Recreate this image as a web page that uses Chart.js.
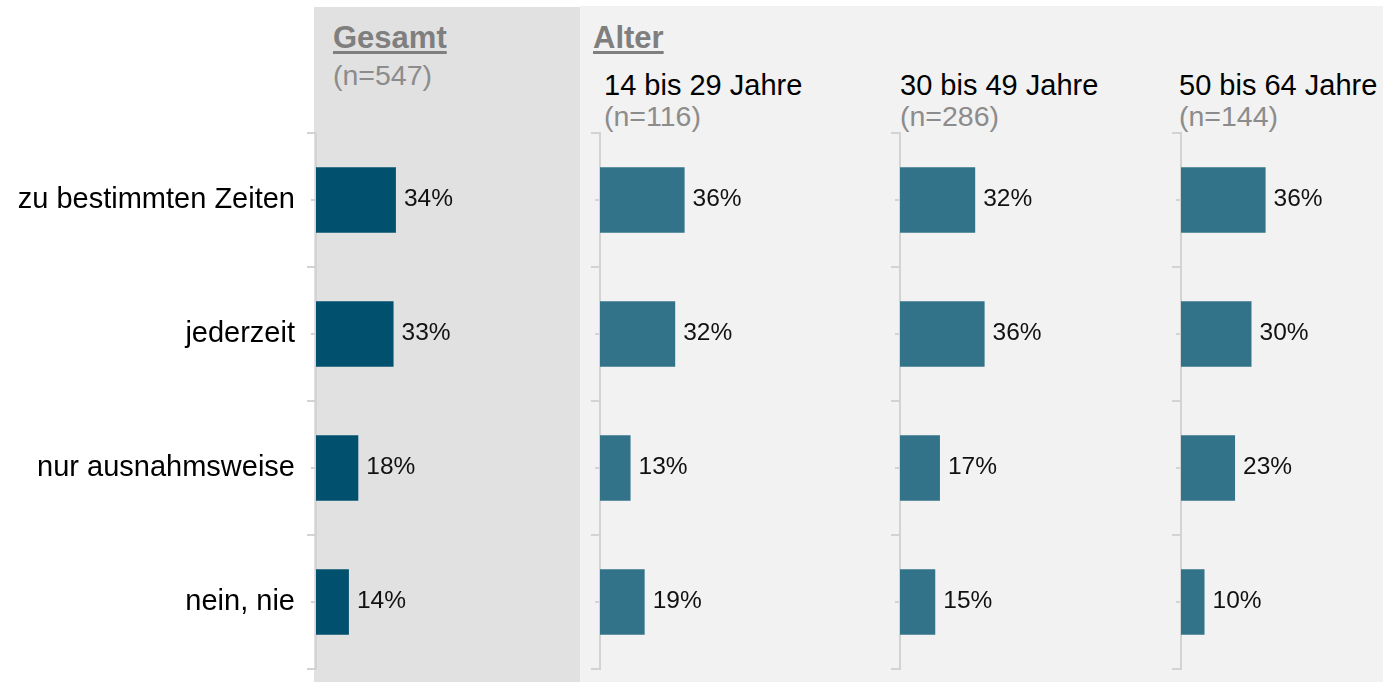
<!DOCTYPE html>
<html>
<head>
<meta charset="utf-8">
<script src="https://cdn.jsdelivr.net/npm/chart.js@4.4.1/dist/chart.umd.min.js"></script>
<style>
  html, body { margin: 0; padding: 0; background: #fff; }
  body { width: 1383px; height: 682px; position: relative; overflow: hidden; font-family: "Liberation Sans", Arial, sans-serif; }
  .panel { position: absolute; }
  .txt { position: absolute; white-space: nowrap; line-height: 1; }
  .head { font-weight: bold; font-size: 31px; color: #7f7f7f; text-decoration: underline; text-decoration-thickness: 3px; text-underline-offset: 3px; }
  .grp { font-size: 29px; color: #000; }
  .n { font-size: 28.5px; color: #8c8c8c; }
  .box { position: absolute; }
</style>
</head>
<body>
<div class="panel" style="left:314px; top:7px; width:266px; height:675px; background:#e1e1e1;"></div>
<div class="panel" style="left:580px; top:6px; width:803px; height:676px; background:#f2f2f2;"></div>

<div id="texts"></div>
<div class="box" id="box0"><canvas id="chart0"></canvas></div>
<div class="box" id="box1"><canvas id="chart1"></canvas></div>
<div class="box" id="box2"><canvas id="chart2"></canvas></div>
<div class="box" id="box3"><canvas id="chart3"></canvas></div>

<script>
// data
const categories = ['zu bestimmten Zeiten', 'jederzeit', 'nur ausnahmsweise', 'nein, nie'];
const gesamt = [34, 33, 18, 14];
const age1429 = [36, 32, 13, 19];
const age3049 = [32, 36, 17, 15];
const age5064 = [36, 30, 23, 10];
const groupTitles = ['Gesamt', '14 bis 29 Jahre', '30 bis 49 Jahre', '50 bis 64 Jahre'];
const groupN = [547, 116, 286, 144];
const sectionTitles = ['Gesamt', 'Alter'];

document.addEventListener('DOMContentLoaded', function() {

  // header texts
  const texts = document.getElementById('texts');
  function addText(cls, str, left, top) {
    const d = document.createElement('div');
    d.className = 'txt ' + cls;
    d.textContent = str;
    d.style.left = left + 'px';
    d.style.top = top + 'px';
    texts.appendChild(d);
  }
  addText('head', sectionTitles[0], 333, 22);
  addText('n', '(n=' + groupN[0] + ')', 333, 61);
  addText('head', sectionTitles[1], 593, 22);
  const ageLeft = [604, 900, 1179];
  for (let i = 1; i < 4; i++) {
    addText('grp', groupTitles[i], ageLeft[i - 1], 71);
    addText('n', '(n=' + groupN[i] + ')', ageLeft[i - 1], 102);
  }

  // value labels right of bars
  const valueLabels = {
    id: 'valueLabels',
    afterDatasetsDraw(chart) {
      const ctx = chart.ctx;
      const meta = chart.getDatasetMeta(0);
      const data = chart.data.datasets[0].data;
      ctx.save();
      ctx.font = '24.5px "Liberation Sans", Arial, sans-serif';
      ctx.fillStyle = '#111';
      ctx.textAlign = 'left';
      ctx.textBaseline = 'middle';
      meta.data.forEach(function(bar, i) {
        ctx.fillText(data[i] + '%', bar.x + 8, bar.y - 1);
      });
      ctx.restore();
    }
  };

  // short ticks at category centres
  const midTicks = {
    id: 'midTicks',
    afterDraw(chart) {
      const ctx = chart.ctx;
      const y = chart.scales.y;
      const left = chart.chartArea.left;
      ctx.save();
      ctx.strokeStyle = '#d3d3d3';
      ctx.lineWidth = 2;
      for (let i = 0; i < y.ticks.length; i++) {
        const py = y.getPixelForTick(i);
        ctx.beginPath();
        ctx.moveTo(left - 5, py);
        ctx.lineTo(left, py);
        ctx.stroke();
      }
      ctx.restore();
    }
  };

  const series = [gesamt, age1429, age3049, age5064];
  const colors = ['#00506e', '#327389', '#327389', '#327389'];
  const axisX = [316, 600, 900, 1181];
  const plotW = 235;   // 0..100 %
  const padR = 55;
  const top = 123;
  const height = 556;

  series.forEach(function(vals, k) {
    const axisW = k === 0 ? 316 : 12;
    const box = document.getElementById('box' + k);
    const w = axisW + plotW + padR;
    box.style.left = (axisX[k] - axisW) + 'px';
    box.style.top = top + 'px';
    box.style.width = w + 'px';
    box.style.height = height + 'px';

    new Chart(document.getElementById('chart' + k), {
      type: 'bar',
      data: {
        labels: categories,
        datasets: [{
          label: groupTitles[k],
          data: vals,
          backgroundColor: colors[k],
          barPercentage: 0.49,
          categoryPercentage: 1
        }]
      },
      options: {
        indexAxis: 'y',
        responsive: true,
        maintainAspectRatio: false,
        animation: false,
        layout: { padding: { top: 10, bottom: 10, left: 0, right: padR } },
        plugins: {
          legend: { display: false },
          tooltip: { enabled: false },
          title: { display: false }
        },
        scales: {
          x: {
            display: false,
            min: 0,
            max: 100
          },
          y: {
            offset: true,
            afterFit: function(scale) {
              scale.width = axisW;
              scale.paddingTop = 0;
              scale.paddingBottom = 0;
            },
            ticks: {
              display: k === 0,
              color: '#000',
              padding: 12,
              font: { size: 29, family: '"Liberation Sans", Arial, sans-serif' }
            },
            grid: {
              offset: true,
              drawOnChartArea: false,
              drawTicks: true,
              tickLength: 9,
              color: '#d3d3d3',
              lineWidth: 2
            },
            border: { display: true, color: '#d3d3d3', width: 2 }
          }
        }
      },
      plugins: [valueLabels, midTicks]
    });
  });
});
</script>
</body>
</html>
